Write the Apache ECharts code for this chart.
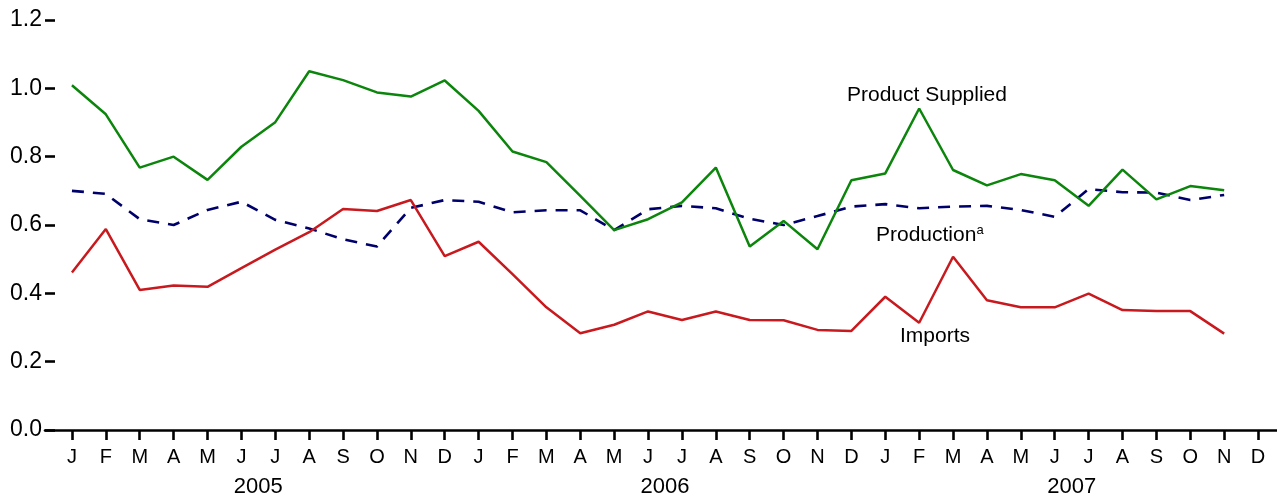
<!DOCTYPE html>
<html>
<head>
<meta charset="utf-8">
<script src="https://cdn.jsdelivr.net/npm/echarts@6/dist/echarts.min.js"></script>
<style>
html,body{margin:0;padding:0;background:#fff;}
#chart{width:1277px;height:500px;}
</style>
</head>
<body>
<div id="chart"></div>
<script>
const monthLetters = ['J','F','M','A','M','J','J','A','S','O','N','D'];
const years = ['2005','2006','2007'];
const yTicks = [0, 0.2, 0.4, 0.6, 0.8, 1.0, 1.2];

const productSupplied = [1.009,0.924,0.768,0.800,0.732,0.829,0.901,1.050,1.024,0.988,0.976,1.023,
  0.934,0.815,0.784,0.685,0.585,0.617,0.666,0.768,0.537,0.612,0.529,0.731,
  0.751,0.941,0.761,0.716,0.749,0.731,0.656,0.762,0.675,0.714,0.702];
const production = [0.700,0.691,0.617,0.600,0.644,0.668,0.615,0.590,0.558,0.537,0.650,0.673,
  0.668,0.637,0.643,0.643,0.585,0.646,0.656,0.649,0.618,0.600,0.626,0.654,
  0.661,0.649,0.654,0.656,0.644,0.624,0.705,0.696,0.695,0.673,0.688];
const imports = [0.461,0.588,0.410,0.423,0.419,0.474,0.528,0.579,0.647,0.641,0.673,0.509,
  0.551,0.456,0.359,0.283,0.308,0.347,0.322,0.347,0.322,0.321,0.293,0.290,
  0.390,0.314,0.507,0.380,0.359,0.359,0.399,0.351,0.348,0.348,0.282];

const categories = [];
years.forEach(y => monthLetters.forEach((m, i) => categories.push(m + '|' + y + '|' + i)));

const FONT = '"Liberation Sans", Arial, sans-serif';
const chart = echarts.init(document.getElementById('chart'));
chart.setOption({
  animation: false,
  backgroundColor: '#fff',
  grid: [
    {left: 45, right: 0, top: 20, bottom: 70},
    {left: 55, right: 2, top: 20, bottom: 70}
  ],
  xAxis: [
    {gridIndex: 0, type: 'value', min: 0, max: 1, axisLine: {show: true, onZero: false, lineStyle: {color: '#000', width: 2.6}},
     axisTick: {show: false}, axisLabel: {show: false}, splitLine: {show: false}},
    {gridIndex: 1, type: 'category', data: categories, boundaryGap: true,
     axisLine: {show: false},
     axisTick: {show: true, alignWithLabel: true, interval: 0, length: 10, lineStyle: {color: '#000', width: 2.6}},
     axisLabel: {interval: 0, margin: 17, color: '#000', fontSize: 20, fontFamily: FONT, formatter: v => v.split('|')[0]},
     splitLine: {show: false}},
    {gridIndex: 1, type: 'category', data: years, boundaryGap: true, position: 'bottom',
     axisLine: {show: false}, axisTick: {show: false},
     axisLabel: {interval: 0, margin: 46, color: '#000', fontSize: 22, fontFamily: FONT},
     splitLine: {show: false}}
  ],
  yAxis: [
    {gridIndex: 0, type: 'value', min: yTicks[0], max: yTicks[yTicks.length-1], interval: 0.2,
     axisLine: {show: false},
     axisTick: {show: true, inside: true, length: 10, lineStyle: {color: '#000', width: 2.6}},
     axisLabel: {margin: 3, color: '#000', fontSize: 23, fontFamily: FONT, formatter: v => v.toFixed(1)},
     splitLine: {show: false}},
    {gridIndex: 1, type: 'value', min: yTicks[0], max: yTicks[yTicks.length-1], interval: 0.2, show: false, splitLine: {show: false}}
  ],
  series: [
    {name: 'Production', type: 'line', xAxisIndex: 1, yAxisIndex: 1, data: production, symbol: 'none',
     lineStyle: {color: '#00006b', width: 2.6, type: [12, 9]}, z: 2},
    {name: 'Imports', type: 'line', xAxisIndex: 1, yAxisIndex: 1, data: imports, symbol: 'none',
     lineStyle: {color: '#c81a1e', width: 2.5}, z: 3},
    {name: 'Product Supplied', type: 'line', xAxisIndex: 1, yAxisIndex: 1, data: productSupplied, symbol: 'none',
     lineStyle: {color: '#0b850b', width: 2.5}, z: 4}
  ],
  graphic: [
    {type: 'text', left: 847, top: 85, style: {text: 'Product Supplied', fill: '#000', font: '21px ' + FONT}},
    {type: 'text', left: 876, top: 224, style: {text: 'Production{s|a}', fill: '#000', font: '21px ' + FONT,
      rich: {s: {fontSize: 13, fontFamily: FONT, verticalAlign: 'top', padding: [0,0,10,0]}}}},
    {type: 'text', left: 900, top: 326, style: {text: 'Imports', fill: '#000', font: '21px ' + FONT}}
  ]
});
</script>
</body>
</html>
